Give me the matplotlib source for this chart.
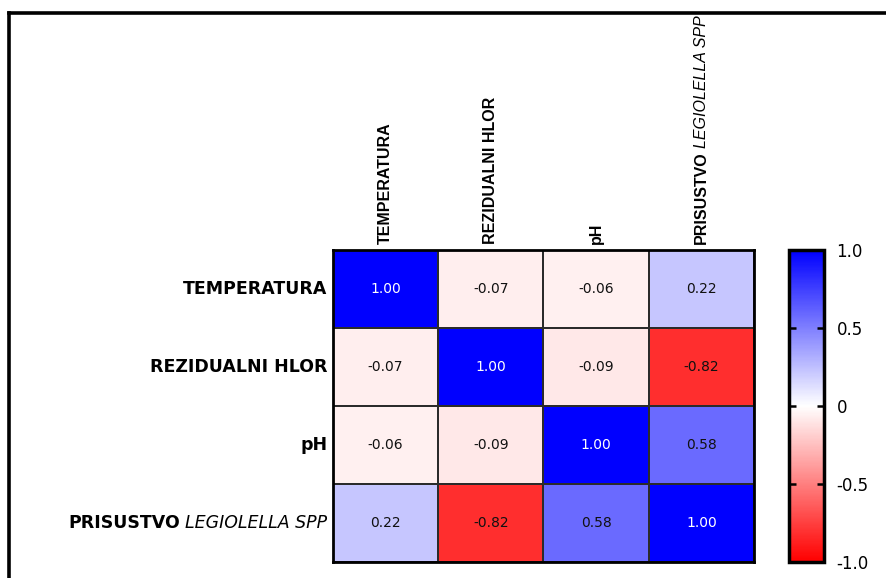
import matplotlib

matplotlib.use("Agg")
import matplotlib.pyplot as plt
import numpy as np
from matplotlib.colors import LinearSegmentedColormap
from matplotlib.lines import Line2D

# variables in the matrix (last one has an italic genus name)
row_labels = ["TEMPERATURA", "REZIDUALNI HLOR", "pH"]
last_bold = "PRISUSTVO"
last_italic = "LEGIOLELLA SPP"

corr = np.array([
    [1.00, -0.07, -0.06, 0.22],
    [-0.07, 1.00, -0.09, -0.82],
    [-0.06, -0.09, 1.00, 0.58],
    [0.22, -0.82, 0.58, 1.00],
])

cbar_ticks = [-1.0, -0.5, 0.0, 0.5, 1.0]
cbar_ticklabels = ["-1.0", "-0.5", "0", "0.5", "1.0"]

W, H = 887, 578
col_font = ["Liberation Sans", "DejaVu Sans"]

cmap = LinearSegmentedColormap.from_list("rwb", ["#ff0000", "#ffffff", "#0000ff"])

fig = plt.figure(figsize=(W / 100, H / 100), dpi=100)
ax = fig.add_axes([333 / W, 16 / H, 421 / W, 312 / H])
cax = fig.add_axes([789 / W, 16 / H, 35 / W, 312 / H])

n = corr.shape[0]
mesh = ax.pcolormesh(corr, cmap=cmap, vmin=-1, vmax=1,
                     edgecolors="#2b2b2b", linewidth=1.3)
ax.set_xlim(0, n)
ax.set_ylim(n, 0)
ax.set_xticks([])
ax.set_yticks([])
for s in ax.spines.values():
    s.set_linewidth(2)
    s.set_color("black")

for i in range(n):
    for j in range(n):
        v = corr[i, j]
        ax.text(j + 0.5, i + 0.5, f"{v:.2f}", ha="center", va="center",
                fontsize=10, color="white" if v > 0.9 else "#111111",
                family="DejaVu Sans")

# row labels (left)
for i, lab in enumerate(row_labels):
    ax.annotate(lab, xy=(0, i + 0.5), xytext=(-4, 0), textcoords="offset points",
                ha="right", va="center", fontsize=12.5, fontweight="bold",
                family="DejaVu Sans")
it_row = ax.annotate(last_italic, xy=(0, n - 0.5), xytext=(-4, 0),
                     textcoords="offset points", ha="right", va="center",
                     fontsize=12.5, style="italic", family="DejaVu Sans")
ax.annotate(last_bold, xy=(0, 0.5), xycoords=it_row, xytext=(-4, 0),
            textcoords="offset points", ha="right", va="center",
            fontsize=12.5, fontweight="bold", family="DejaVu Sans")

# column labels (top, rotated)
for j, lab in enumerate(row_labels):
    ax.annotate(lab, xy=(j + 0.5, 0), xytext=(0, 4), textcoords="offset points",
                ha="center", va="bottom", rotation=90, fontsize=11.5,
                fontweight="bold", family=col_font)
bold_col = ax.annotate(last_bold, xy=(n - 0.5, 0), xytext=(0, 4),
                       textcoords="offset points", ha="center", va="bottom",
                       rotation=90, fontsize=11.5, fontweight="bold", family=col_font)
ax.annotate(last_italic, xy=(0.5, 1), xycoords=bold_col, xytext=(0, 3),
            textcoords="offset points", ha="center", va="bottom", rotation=90,
            fontsize=11.5, style="italic", family=col_font)

# colorbar
cb = fig.colorbar(mesh, cax=cax, ticks=cbar_ticks)
cb.set_ticklabels(cbar_ticklabels)
cb.outline.set_linewidth(2.5)
cax.tick_params(direction="in", left=True, right=True, length=5, width=1.8,
                labelsize=12, pad=9)
for t in cax.get_yticklabels():
    t.set_family("DejaVu Sans")

# frame around the figure (open to the right and bottom)
fig.add_artist(Line2D([9 / W, 9 / W], [0, 1 - 13 / H], transform=fig.transFigure,
                      color="black", lw=2.6, solid_capstyle="projecting"))
fig.add_artist(Line2D([9 / W, 1], [1 - 13 / H, 1 - 13 / H], transform=fig.transFigure,
                      color="black", lw=2.6, solid_capstyle="projecting"))

fig.savefig("out.png", dpi=100)
